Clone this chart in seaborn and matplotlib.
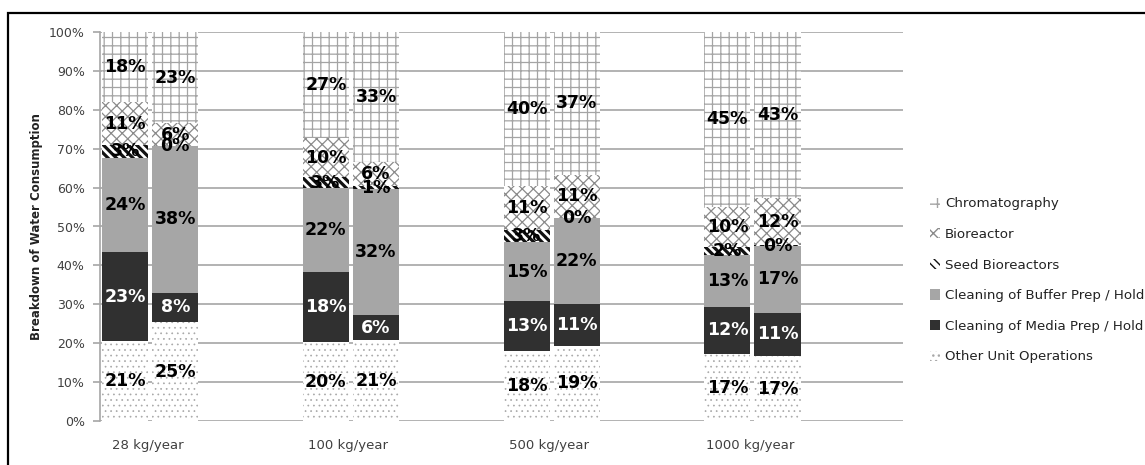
import numpy as np
import pandas as pd
import matplotlib
matplotlib.use("Agg")
import matplotlib.pyplot as plt
import seaborn as sns
from matplotlib.patches import Patch, Rectangle

# ---------------- data ----------------
groups = ["28 kg/year", "100 kg/year", "500 kg/year", "1000 kg/year"]
layers = ["Other Unit Operations", "Cleaning of Media Prep / Hold",
          "Cleaning of Buffer Prep / Hold", "Seed Bioreactors",
          "Bioreactor", "Chromatography"]
# two bars per group, in order: 28a, 28b, 100a, 100b, 500a, 500b, 1000a, 1000b
other          = [20.6, 25.4, 20.2, 20.8, 18.1, 19.4, 17.2, 16.7]
media          = [22.8,  7.6, 18.0,  6.4, 12.7, 10.6, 12.2, 11.1]
buffer         = [24.3, 37.6, 21.6, 32.4, 15.2, 22.1, 13.3, 17.2]
seed           = [ 3.2,  0.0,  2.8,  0.7,  3.0,  0.2,  2.0,  0.2]
bioreactor     = [11.0,  6.0, 10.2,  6.3, 11.3, 11.0, 10.4, 12.0]
chromatography = [18.1, 23.4, 27.2, 33.4, 39.7, 36.7, 44.9, 42.8]

series = [other, media, buffer, seed, bioreactor, chromatography]

# ---------------- style ----------------
styles = {
    "Other Unit Operations":          dict(fc="white",   hatch="...",  hc="#a8a8a8", hlw=0.5, tc="black"),
    "Cleaning of Media Prep / Hold":  dict(fc="#303030", hatch=None,   hc="#303030", hlw=0.8, tc="white"),
    "Cleaning of Buffer Prep / Hold": dict(fc="#a6a6a6", hatch=None,   hc="#a6a6a6", hlw=0.8, tc="black"),
    "Seed Bioreactors":               dict(fc="white",   hatch="\\\\\\\\", hc="#111111", hlw=2.3, tc="black"),
    "Bioreactor":                     dict(fc="white",   hatch="xxx",  hc="#8a8a8a", hlw=0.9, tc="black"),
    "Chromatography":                 dict(fc="white",   hatch="++",   hc="#a4a4a4", hlw=0.9, tc="black"),
}

sns.set_theme(style="white")
plt.rcParams["font.family"] = ["DejaVu Sans"]

fig = plt.figure(figsize=(11.45, 4.65), dpi=100)
ax = fig.add_axes([100 / 1145, 44 / 465, 803 / 1145, 389 / 465])

n_bars = len(other)
slots = np.array([4 * (i // 2) + (i % 2) for i in range(n_bars)], dtype=float)

vals = np.array(series)          # layers x bars
cum = np.cumsum(vals, axis=0)

# draw from top layer down (overlapping cumulative bars)
for li in range(len(layers) - 1, -1, -1):
    name = layers[li]
    st = styles[name]
    df = pd.DataFrame({"slot": slots, "top": cum[li]})
    with plt.rc_context({"hatch.linewidth": st["hlw"]}):
        n_before = len(ax.patches)
        sns.barplot(data=df, x="slot", y="top", native_scale=True, width=0.92,
                    color=st["fc"], saturation=1, errorbar=None,
                    linewidth=0, ax=ax, zorder=2)
        for p in ax.patches[n_before:]:
            p.set_facecolor(st["fc"])
            p.set_edgecolor(st["hc"])
            p.set_linewidth(0)
            if st["hatch"]:
                p.set_hatch(st["hatch"])
                try:
                    p.set_hatch_linewidth(st["hlw"])
                except AttributeError:
                    pass

# segment labels
for li, name in enumerate(layers):
    st = styles[name]
    for bi in range(n_bars):
        v = vals[li, bi]
        base = cum[li, bi] - v
        ax.text(slots[bi], base + v / 2, f"{int(round(v))}%", ha="center", va="center",
                fontsize=12.5, fontweight="bold", color=st["tc"], zorder=5)

# axes cosmetics
ax.set_xlim(-0.5, 15.5)
ax.set_ylim(0, 100)
ax.set_yticks(np.arange(0, 101, 10))
ax.set_yticklabels([f"{t}%" for t in range(0, 101, 10)])
ax.set_xticks([4 * g + 0.45 for g in range(len(groups))])
ax.set_xticklabels(groups)
ax.set_xlabel("")
ax.set_ylabel("Breakdown of Water Consumption", fontsize=8.5, fontweight="bold",
              color="#222222", labelpad=4)
ax.yaxis.grid(True, color="#a6a6a6", linewidth=1.2, zorder=0)
ax.xaxis.grid(False)
ax.set_axisbelow(True)
for s in ["top", "right", "bottom"]:
    ax.spines[s].set_visible(False)
ax.spines["left"].set_color("#a6a6a6")
ax.spines["left"].set_linewidth(1.2)
ax.tick_params(axis="y", which="both", left=True, length=5, width=1.2, color="#a6a6a6",
               labelsize=9, labelcolor="#404040", pad=6)
ax.tick_params(axis="x", bottom=False, labelsize=9.5, labelcolor="#404040", pad=7)

# legend (reverse order)
handles = []
for name in layers[::-1]:
    st = styles[name]
    handles.append(Patch(facecolor=st["fc"], edgecolor=st["hc"], hatch=st["hatch"], linewidth=0))
fig.legend(handles, layers[::-1], loc="upper left", bbox_to_anchor=(925 / 1145, 1 - 192 / 465),
           frameon=False, fontsize=9.6, handlelength=0.7, handleheight=0.8,
           handletextpad=0.4, labelspacing=1.32, borderaxespad=0, labelcolor="#222222")

# outer black frame
fig.patches.append(Rectangle((8 / 1145, -0.05), 1.2, 1 - 13 / 465 + 0.05,
                             transform=fig.transFigure, fill=False,
                             edgecolor="black", linewidth=1.6, zorder=10))

fig.savefig("out.png", dpi=100)
